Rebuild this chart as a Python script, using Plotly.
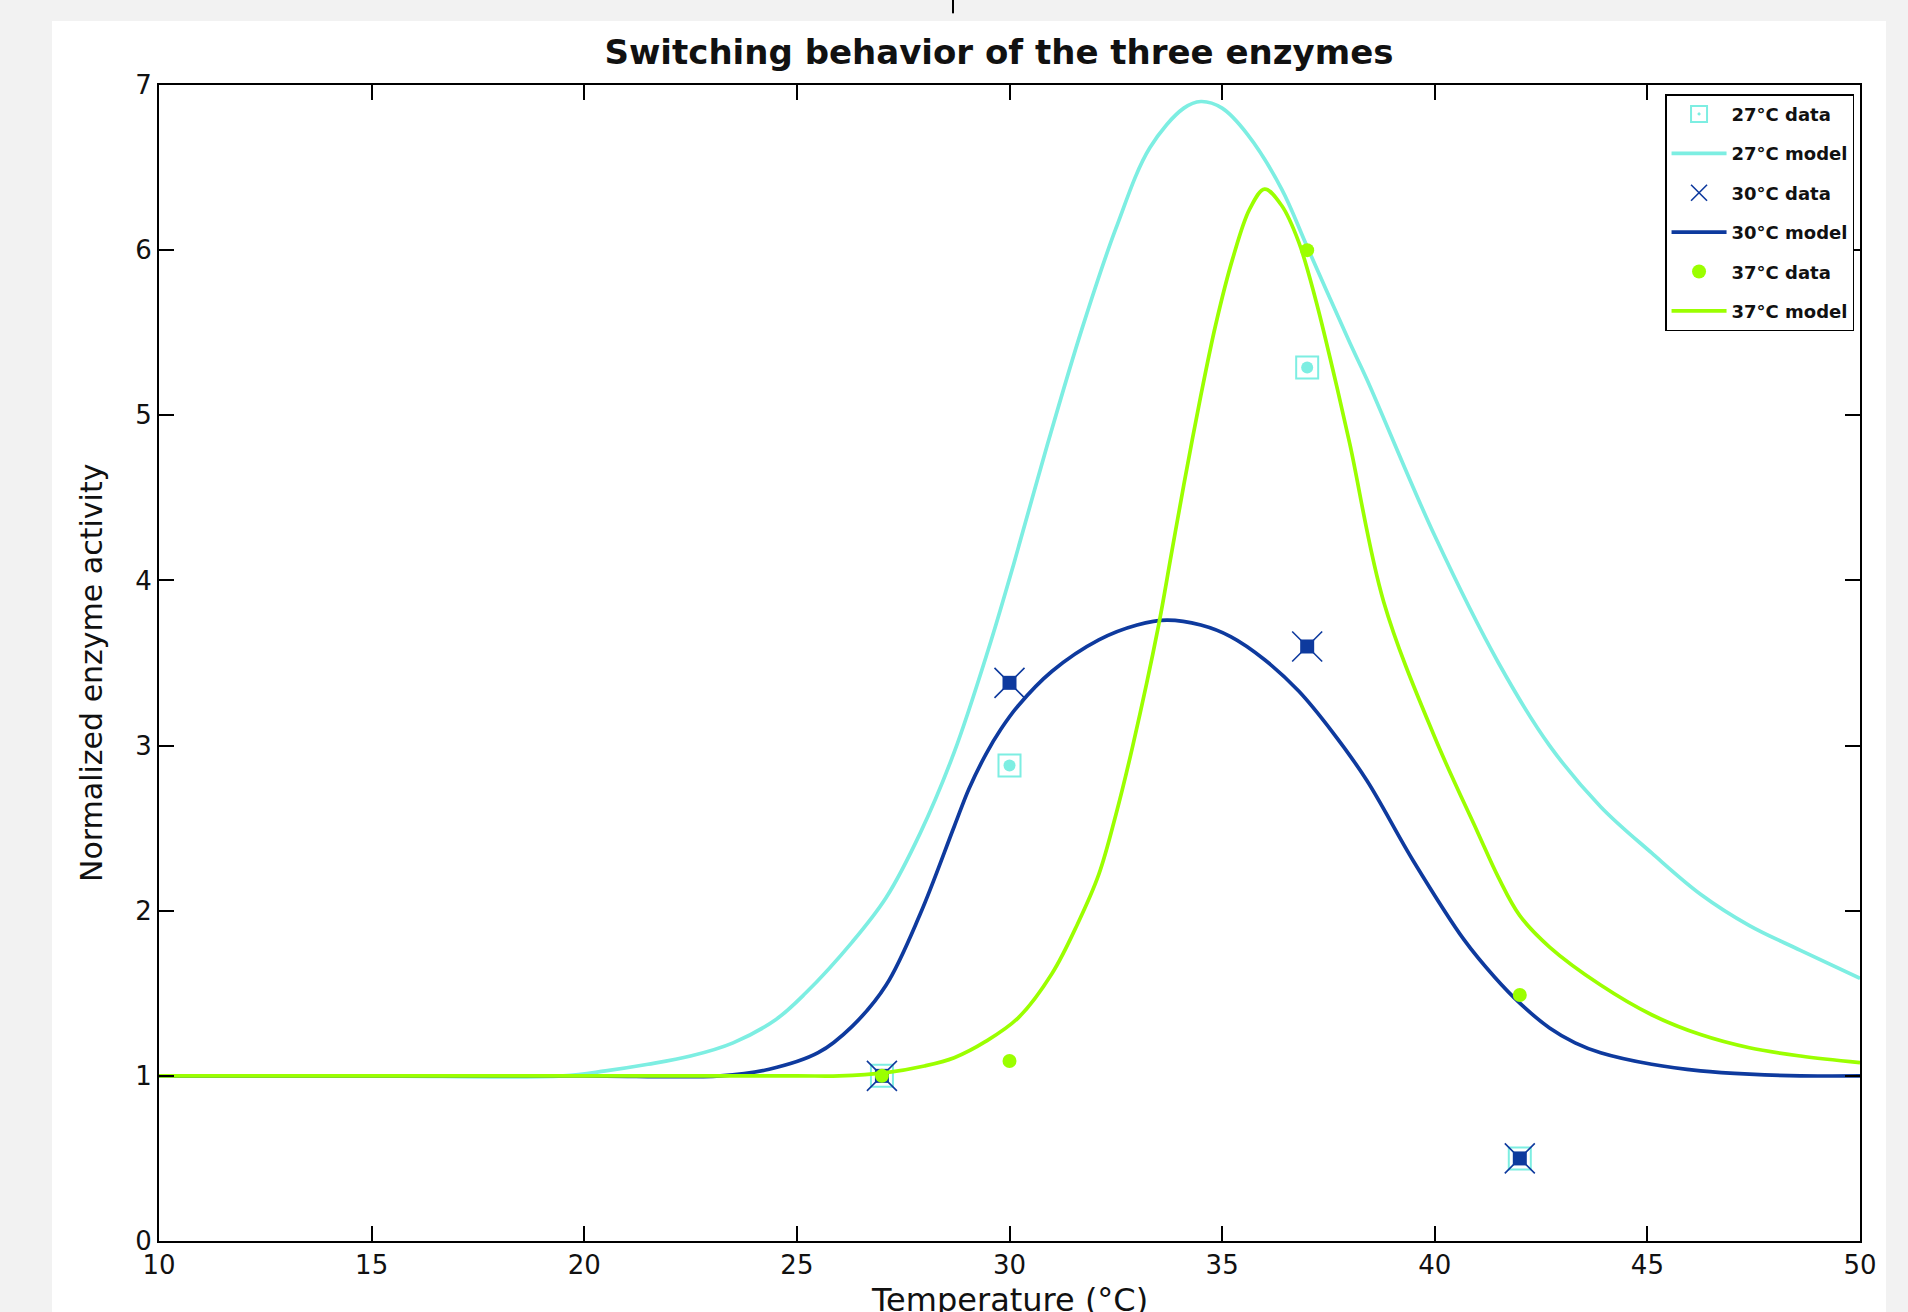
import plotly.graph_objects as go

# ---------------- data ----------------
data_temps = [27, 30, 37, 42]
data_27 = [1.0, 2.88, 5.29, 0.50]
data_30 = [1.0, 3.38, 3.60, 0.50]
data_37 = [1.0, 1.09, 6.00, 1.49]

t_27 = [10, 15, 19.5, 20.5, 21.5, 22.5, 23.5, 24.5, 25.2, 26.3, 27.1, 27.9, 28.7, 29.5,
        30.1, 30.9, 31.7, 32.5, 33.3, 34.1, 34.5, 35.0, 35.6, 36.4, 37.0, 38.0, 38.4,
        40.0, 41.5, 42.7, 43.9, 45.1, 46.25, 47.4, 48.6, 50]
m_27 = [1.0, 1.0, 1.0, 1.03, 1.07, 1.12, 1.20, 1.34, 1.50, 1.81, 2.08, 2.47, 2.96, 3.58,
        4.10, 4.83, 5.52, 6.13, 6.62, 6.86, 6.90, 6.86, 6.70, 6.37, 6.02, 5.44, 5.22,
        4.27, 3.50, 3.00, 2.63, 2.35, 2.10, 1.91, 1.76, 1.59]

t_30 = [10, 15, 20, 23.2, 24.35, 25.5, 26.3, 27.1, 27.9, 28.7, 29.05, 29.45, 29.8, 30.2,
        31.0, 32.1, 33.0, 33.7, 34.5, 35.2, 36.0, 36.8, 37.6, 38.4, 39.5, 40.7, 41.4,
        42.0, 42.7, 43.3, 43.9, 45.1, 46.25, 47.4, 48.6, 50]
m_30 = [1.0, 1.0, 1.0, 1.0, 1.04, 1.14, 1.30, 1.55, 1.98, 2.51, 2.74, 2.95, 3.10, 3.24,
        3.45, 3.64, 3.73, 3.76, 3.73, 3.66, 3.52, 3.33, 3.08, 2.79, 2.30, 1.82, 1.60,
        1.44, 1.29, 1.20, 1.14, 1.07, 1.03, 1.01, 1.0, 1.0]

t_37 = [10, 15, 20, 25, 26, 27.1, 28.0, 28.7, 29.45, 30.2, 31.0, 31.6, 32.1, 32.5, 32.9,
        33.5, 33.8, 34.1, 34.5, 34.85, 35.25, 35.65, 36.0, 36.4, 36.8, 37.2, 37.6, 38.0,
        38.8, 40.0, 41.0, 41.5, 42.0, 42.7, 43.9, 45.1, 46.25, 47.4, 48.6, 50]
m_37 = [1.0, 1.0, 1.0, 1.0, 1.0, 1.02, 1.06, 1.11, 1.21, 1.35, 1.62, 1.92, 2.22, 2.58, 3.00,
        3.72, 4.15, 4.58, 5.12, 5.55, 5.95, 6.25, 6.37, 6.27, 6.05, 5.70, 5.28, 4.83,
        3.87, 3.05, 2.48, 2.20, 1.97, 1.78, 1.55, 1.37, 1.25, 1.17, 1.12, 1.08]

x_ticks = [10, 15, 20, 25, 30, 35, 40, 45, 50]
y_ticks = [0, 1, 2, 3, 4, 5, 6, 7]

CYAN = "#7DEEE2"
BLUE = "#0E3A9E"
GREEN = "#9BFF00"
FONT = "DejaVu Sans"
LW = 3.7

fig = go.Figure()

# 27 C data (square with dot)
fig.add_trace(go.Scatter(x=data_temps, y=data_27, mode="markers", name="27°C data",
                         legendgroup="a",
                         marker=dict(symbol="square-open-dot", size=22, color=CYAN,
                                     line=dict(width=2, color=CYAN))))
fig.add_trace(go.Scatter(x=data_temps, y=data_27, mode="markers", showlegend=False,
                         legendgroup="a", hoverinfo="skip",
                         marker=dict(symbol="circle", size=12, color=CYAN)))
fig.add_trace(go.Scatter(x=t_27, y=m_27, mode="lines", name="27°C model", legendgroup="b",
                         line=dict(color=CYAN, width=LW, shape="spline", smoothing=1.0)))

# 30 C data (x with square)
fig.add_trace(go.Scatter(x=data_temps, y=data_30, mode="markers", name="30°C data",
                         legendgroup="c",
                         marker=dict(symbol="x-thin-open", size=30, color=BLUE,
                                     line=dict(width=1.6, color=BLUE))))
fig.add_trace(go.Scatter(x=data_temps, y=data_30, mode="markers", showlegend=False,
                         legendgroup="c", hoverinfo="skip",
                         marker=dict(symbol="square", size=14, color=BLUE)))
fig.add_trace(go.Scatter(x=t_30, y=m_30, mode="lines", name="30°C model", legendgroup="d",
                         line=dict(color=BLUE, width=LW, shape="spline", smoothing=1.0)))

# 37 C data (dots)
fig.add_trace(go.Scatter(x=data_temps, y=data_37, mode="markers", name="37°C data",
                         legendgroup="e",
                         marker=dict(symbol="circle", size=14, color=GREEN)))
fig.add_trace(go.Scatter(x=t_37, y=m_37, mode="lines", name="37°C model", legendgroup="f",
                         line=dict(color=GREEN, width=LW, shape="spline", smoothing=1.0)))

axis_common = dict(showgrid=False, zeroline=False, showline=True, linecolor="black",
                   linewidth=2, mirror="ticks", ticks="inside", ticklen=15, tickwidth=1.5,
                   tickcolor="black", tickfont=dict(family=FONT, size=26, color="#111111"))

fig.update_xaxes(range=[10, 50], tickvals=x_ticks, ticktext=[str(v) for v in x_ticks],
                 **axis_common)
fig.update_yaxes(range=[0, 7], tickvals=y_ticks, ticktext=[str(v) for v in y_ticks],
                 **axis_common)

fig.update_layout(
    width=1908, height=1312,
    margin=dict(l=159, r=48, t=85, b=71, autoexpand=False),
    paper_bgcolor="#f2f2f2",
    plot_bgcolor="white",
    title=dict(text="<b>Switching behavior of the three enzymes</b>",
               font=dict(family=FONT, size=34, color="#111111"),
               x=0.4938, xref="paper", xanchor="center", y=0.960, yanchor="middle"),
    legend=dict(x=0.9965, y=0.992, xanchor="right", yanchor="top",
                bgcolor="white", bordercolor="black", borderwidth=1.5,
                font=dict(family=FONT, size=18, color="#111111", weight="bold"),
                tracegroupgap=13, itemwidth=55),
    showlegend=True,
    annotations=[
        dict(text="Temperature (°C)", xref="paper", yref="paper", x=0.5, y=-0.051,
             xanchor="center", yanchor="middle", showarrow=False,
             font=dict(family=FONT, size=32, color="#111111")),
        dict(text="Normalized enzyme activity", xref="paper", yref="paper", x=-0.04, y=0.4913,
             xanchor="center", yanchor="middle", showarrow=False, textangle=-90,
             font=dict(family=FONT, size=30, color="#111111")),
    ],
    shapes=[
        dict(type="rect", xref="paper", yref="paper", x0=-0.0629, x1=1.0153, y0=-0.2, y1=1.0554,
             fillcolor="white", line=dict(width=0), layer="below"),
        dict(type="line", xref="paper", yref="paper", x0=0.4668, x1=0.4668, y0=1.062, y1=1.075,
             line=dict(color="black", width=2)),
    ],
)

fig.write_html("out.html", config={"displayModeBar": False},
               post_script="document.body.style.margin='0';document.body.style.background='#f2f2f2';")
